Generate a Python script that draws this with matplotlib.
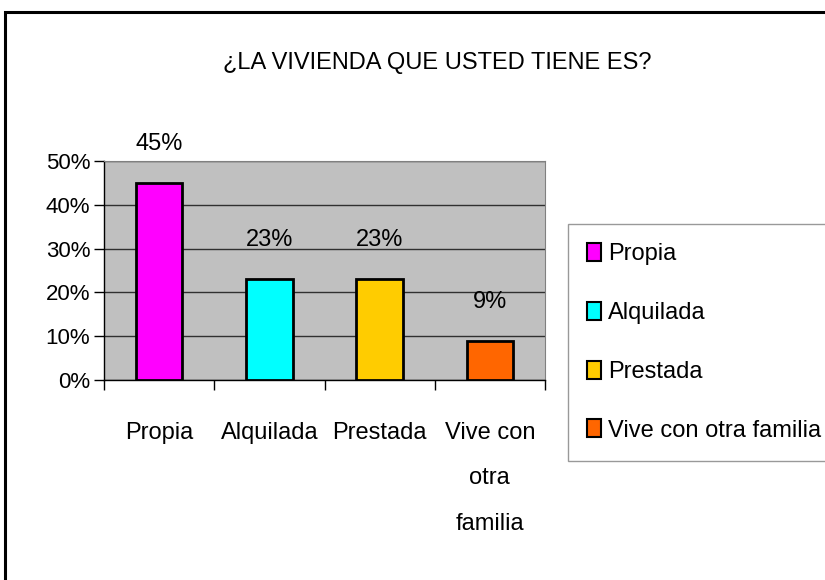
import matplotlib
matplotlib.use("Agg")
import matplotlib.pyplot as plt
from matplotlib.patches import Rectangle, Patch

categories = ["Propia", "Alquilada", "Prestada", "Vive con otra familia"]
tick_labels = ["Propia", "Alquilada", "Prestada", "Vive con\notra\nfamilia"]
values = [45, 23, 23, 9]
value_labels = ["45%", "23%", "23%", "9%"]
colors = ["#FF00FF", "#00FFFF", "#FFCC00", "#FF6600"]
yticks = [0, 10, 20, 30, 40, 50]
ytick_labels = ["0%", "10%", "20%", "30%", "40%", "50%"]
title = "¿LA VIVIENDA QUE USTED TIENE ES?"

plt.rcParams['font.family'] = ['Liberation Sans', 'DejaVu Sans']

fig = plt.figure(figsize=(8.25, 5.8), dpi=100)
fig.patch.set_facecolor("white")
# outer chart border (cropped at right/bottom)
fig.add_artist(Rectangle((5/825, -0.1), 1.2, 1 - 12/580 + 0.1, transform=fig.transFigure,
                         fill=False, edgecolor="black", linewidth=2.2))

ax = fig.add_axes([104/825, 1 - 380/580, (545-104)/825, (380-161)/580])
ax.set_facecolor("#C0C0C0")
x = list(range(len(categories)))
ax.bar(x, values, width=0.42, color=colors, edgecolor="black", linewidth=2, zorder=3)
ax.set_xlim(-0.5, len(categories) - 0.5)
ax.set_ylim(0, 50)
ax.set_yticks(yticks)
ax.set_yticklabels(ytick_labels, fontsize=16)
ax.yaxis.grid(True, color="#303030", linewidth=1)
ax.set_axisbelow(True)
ax.set_xticks([i - 0.5 for i in range(len(categories) + 1)])
ax.set_xticklabels([])
ax.set_xticks(x, minor=True)
ax.set_xticklabels(tick_labels, minor=True, fontsize=17, linespacing=2.4, va="top")
ax.tick_params(axis="x", which="minor", length=0, pad=30)
ax.tick_params(axis="x", which="major", length=7, direction="out", width=1)
ax.tick_params(axis="y", length=7, direction="out", width=1, pad=3)
for s in ["top", "right"]:
    ax.spines[s].set_color("#808080")
for s in ["left", "bottom"]:
    ax.spines[s].set_color("black")
    ax.spines[s].set_linewidth(1)

for xi, v, lab in zip(x, values, value_labels):
    ax.annotate(lab, (xi, v), xytext=(0, 20), textcoords="offset points",
                ha="center", va="bottom", fontsize=17, annotation_clip=False)

fig.text(437/825, 1 - 63/580, title, ha="center", va="center", fontsize=17)

handles = [Patch(facecolor=c, edgecolor="black", linewidth=1.5) for c in colors]
leg = fig.legend(handles, categories, loc="upper left", bbox_to_anchor=(568/825, 1 - 224/580),
                 borderaxespad=0, fontsize=17, frameon=True, fancybox=False, shadow=False,
                 handlelength=0.6, handleheight=0.8, handletextpad=0.3, labelspacing=1.55,
                 borderpad=0.8)
leg.get_frame().set_edgecolor("#808080")
leg.get_frame().set_linewidth(1)

fig.savefig("out.png", dpi=100)
